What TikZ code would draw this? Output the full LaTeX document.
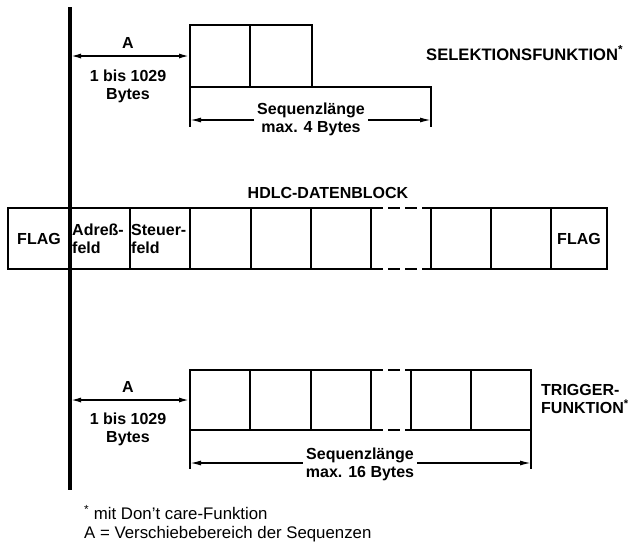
\documentclass[tikz,border=0pt]{standalone}
\usepackage{fontspec}
\setmainfont{Liberation Sans}
\usetikzlibrary{arrows.meta}
\begin{document}
\begin{tikzpicture}[x=1pt,y=-1pt,
  cellbase/.style={draw, line width=2.9pt, inner sep=0pt, outer sep=0pt, anchor=north west,
    font=\bfseries\fontsize{16}{18}\selectfont},
  scell/.style={cellbase, minimum height=62pt},
  mcell/.style={cellbase, minimum height=61pt},
  tcell/.style={cellbase, minimum height=60pt},
  lbl/.style={font=\bfseries\fontsize{16}{18}\selectfont, inner sep=0pt, align=center},
  tip/.tip={Latex[length=11pt,width=5pt]},
  dimarrow/.style={line width=1.9pt, tip-tip},
  extline/.style={line width=1.4pt},
  halfarrow/.style={line width=1.4pt, -tip},
  dsh/.style={line width=2.5pt, dash pattern=on 12pt off 5pt}]
\useasboundingbox (0,0) rectangle (631,542);
\fill[white] (0,0) rectangle (631,542);

% main vertical line
\coordinate (vt) at (70,7);
\coordinate (vb) at (70,490);

% ---- selection function ----
\node[scell, minimum width=60pt] (s1) at (190,25) {};
\node[scell, minimum width=62pt] (s2) at (250,25) {};
\coordinate (sa) at (70,56);
\draw[dimarrow] (sa) -- (s1.west);
\node[lbl] (sA) at (128,43) {A};
\node[lbl] (sB) at (128,86) {1 bis 1029\\Bytes};
\coordinate (sr) at (431,87);
\coordinate (srb) at (431,127);
\coordinate (slb) at (190,127);
\draw[extline] (s1.south west) -- (slb);
\draw[extline] (s2.south east) -- (sr) -- (srb);
\node[lbl] (sq1) at (311,119) {Sequenzlänge\\max. 4 Bytes};
\coordinate (sal) at (190,120);
\coordinate (sar) at (431,120);
\draw[halfarrow] ([xshift=-3pt]sq1.west |- sal) -- (sal);
\draw[halfarrow] ([xshift=3pt]sq1.east |- sar) -- (sar);
\node[lbl, anchor=west, font=\bfseries\fontsize{16.6}{18}\selectfont] (self) at (426,53) {SELEKTIONSFUNKTION\textsuperscript{*}};

% ---- HDLC block ----
\node[lbl] (hdlc) at (328,193) {HDLC-DATENBLOCK};
\node[mcell, minimum width=62pt] (m1) at (8,208) {FLAG};
\node[mcell, minimum width=60pt] (m2) at (70,208) {};
\node[mcell, minimum width=60pt] (m3) at (130,208) {};
\node[mcell, minimum width=61pt] (m4) at (190,208) {};
\node[mcell, minimum width=60pt] (m5) at (251,208) {};
\node[mcell, minimum width=60pt] (m6) at (311,208) {};
\node[mcell, minimum width=60pt] (m7) at (431,208) {};
\node[mcell, minimum width=60pt] (m8) at (491,208) {};
\node[mcell, minimum width=56pt] (m9) at (551,208) {FLAG};
\draw[dsh] (m6.north east) -- (m7.north west);
\draw[dsh] (m6.south east) -- (m7.south west);
\node[lbl, align=left, anchor=west] (adr) at (72,238.5) {Adreß-\\feld};
\node[lbl, align=left, anchor=west] (steu) at (131,238.5) {Steuer-\\feld};

% ---- trigger function ----
\node[tcell, minimum width=60pt] (t1) at (190,370) {};
\node[tcell, minimum width=61pt] (t2) at (250,370) {};
\node[tcell, minimum width=60pt] (t3) at (311,370) {};
\node[tcell, minimum width=60pt] (t4) at (411,370) {};
\node[tcell, minimum width=60pt] (t5) at (471,370) {};
\draw[dsh] (t3.north east) -- (t4.north west);
\draw[dsh] (t3.south east) -- (t4.south west);
\coordinate (ta) at (70,400);
\draw[dimarrow] (ta) -- (t1.west);
\node[lbl] (tA) at (128,387) {A};
\node[lbl] (tB) at (128,429) {1 bis 1029\\Bytes};
\coordinate (tlb) at (190,469);
\coordinate (trb) at (531,469);
\draw[extline] (t1.south west) -- (tlb);
\draw[extline] (t5.south east) -- (trb);
\node[lbl] (sq2) at (360,464) {Sequenzlänge\\max. 16 Bytes};
\coordinate (tal) at (190,463);
\coordinate (tar) at (531,463);
\draw[halfarrow] ([xshift=-3pt]sq2.west |- tal) -- (tal);
\draw[halfarrow] ([xshift=3pt]sq2.east |- tar) -- (tar);
\node[lbl, align=left, anchor=west] (trig) at (541,399) {TRIGGER-\\FUNKTION\textsuperscript{*}};

\draw[line width=3.2pt] (vt) -- (vb);

% ---- footnote ----
\node[anchor=west, align=left, inner sep=0pt, font=\fontsize{16.8}{19}\selectfont] (fn) at (84,523.5)
  {\textsuperscript{*} mit Don’t care-Funktion\\A = Verschiebebereich der Sequenzen};
\end{tikzpicture}
\end{document}
